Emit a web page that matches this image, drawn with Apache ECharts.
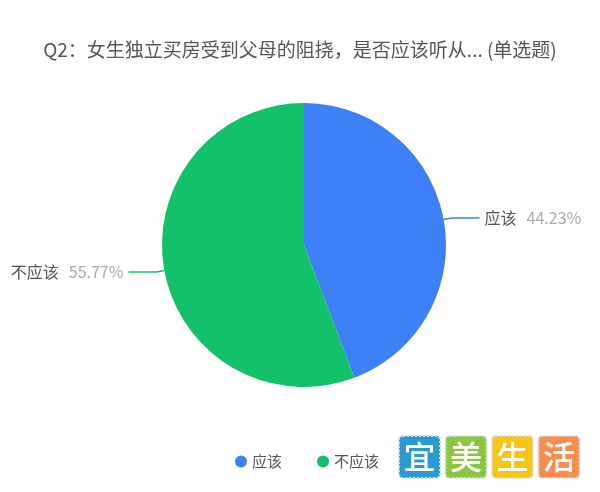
<!DOCTYPE html>
<html><head><meta charset="utf-8">
<script src="https://cdn.jsdelivr.net/npm/echarts@6/dist/echarts.min.js"></script>
<style>html,body{margin:0;padding:0;background:#fff}#c{width:600px;height:492px}</style>
</head><body><div id="c"></div>
<script>
const titleText = 'Q2：女生独立买房受到父母的阻挠，是否应该听从... (单选题)';
const categories = ['应该', '不应该'];
const values = [44.23, 55.77];
const colors = ['#3d7ff6', '#14c16b'];
const watermarkChars = ['宜', '美', '生', '活'];
const watermarkColors = ['#2a9ad2', '#8cc63e', '#f6c411', '#f68d4c'];

const chart = echarts.init(document.getElementById('c'));
const fontFamily = '"Noto Sans CJK SC","Noto Sans",sans-serif';
const wm = watermarkChars.map((ch, i) => ({
  type: 'group',
  left: 398 + i * 46.5,
  top: 435,
  children: [
    {type: 'rect', shape: {x: 0, y: 0, width: 41, height: 42, r: 4}, style: {fill: watermarkColors[i], stroke: '#cfe3f0', lineWidth: 2, lineDash: [2, 2]}},
    {type: 'text', style: {x: 20.5, y: 21, text: ch, fill: '#fff', font: '500 32px ' + fontFamily, align: 'center', verticalAlign: 'middle'}}
  ]
}));
chart.setOption({
  backgroundColor: '#fff',
  color: colors,
  title: {
    text: titleText, left: 'center', top: 35,
    textStyle: {fontSize: 19, fontWeight: 'normal', color: '#555', fontFamily}
  },
  legend: {
    bottom: 18, left: 230, icon: 'circle', itemWidth: 12, itemHeight: 12, itemGap: 35,
    textStyle: {fontSize: 15, color: '#555', fontFamily},
    data: categories
  },
  graphic: wm,
  series: [{
    type: 'pie',
    center: [304, 245],
    radius: [0, 142],
    startAngle: 90,
    clockwise: true,
    data: categories.map((c, i) => ({name: c, value: values[i]})),
    label: {
      formatter: p => '{n|' + p.name + '}   {v|' + p.value.toFixed(2) + '%}',
      rich: {
        n: {fontSize: 16, color: '#555', fontFamily},
        v: {fontSize: 16, color: '#aaa', fontFamily}
      },
      overflow: 'none',
      distanceToLabelLine: 5
    },
    labelLine: {length: 8, length2: 28, lineStyle: {width: 1.5}},
    emphasis: {disabled: true}
  }]
});
</script></body></html>
